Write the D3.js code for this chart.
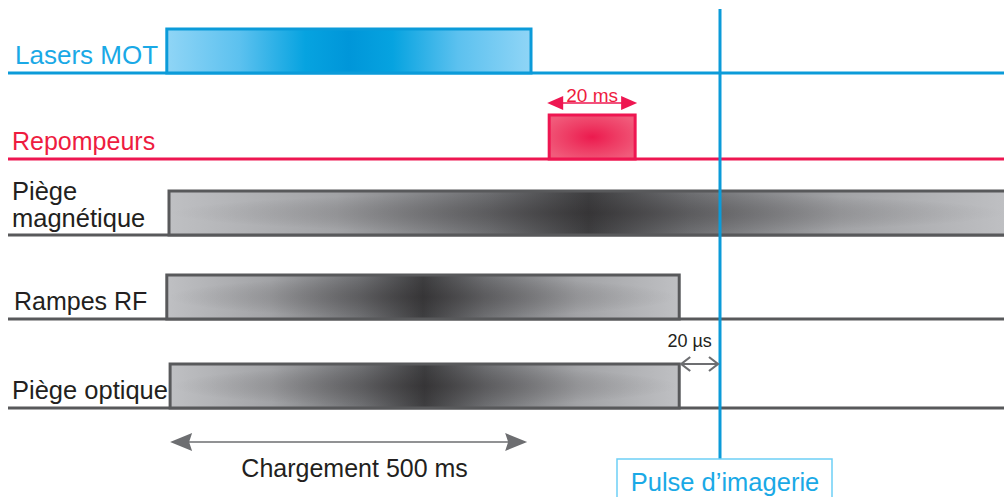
<!DOCTYPE html>
<html>
<head>
<meta charset="utf-8">
<script src="https://cdn.jsdelivr.net/npm/d3@7/dist/d3.min.js"></script>
<style>
html,body{margin:0;padding:0;background:#fff;}
svg{display:block;}
svg text{font-family:"Liberation Sans","Arimo",Arial,Helvetica,sans-serif;}
</style>
</head>
<body>
<svg id="chart" width="1004" height="497"></svg>
<script>
// ---- data (schematic time units: 0 = start of loading, 100 = imaging pulse) ----
const signals = ["Lasers MOT", "Repompeurs", "Piège magnétique", "Rampes RF", "Piège optique"];
const labelLines = [["Lasers MOT"], ["Repompeurs"], ["Piège", "magnétique"], ["Rampes RF"], ["Piège optique"]];
const pulseStart = [-0.4, 69.0, 0.0, -0.4, 0.2];
const pulseEnd   = [65.7, 84.6, 160, 92.6, 92.6];
const imagingTime = 100;
const loadingSpan = [0.2, 65.0];
const loadingLabel = "Chargement 500 ms";
const repumpLabel = "20 ms";
const delayLabel = "20 µs";
const imagingLabel = "Pulse d’imagerie";

// ---- layout ----
const FONT = "'Liberation Sans', Arimo, Arial, Helvetica, sans-serif";
const svg = d3.select("#chart").attr("font-family", FONT);
const x = d3.scaleLinear().domain([0, 100]).range([169, 720]);
const baseY = d3.scaleOrdinal().domain(signals).range([73, 159, 235, 319, 408]);
const barH = 44;
const lineStart = 8, lineEnd = 1004;

const styles = {
  "Lasers MOT": {line: "#0b9bd9", text: "#1aa9e6", fill: "gMOT", stroke: "#0b9bd9", size: 26},
  "Repompeurs": {line: "#ee1651", text: "#ee1c3f", fill: "gRep", stroke: "#ee1651", size: 25},
  "Piège magnétique": {line: "#58595b", text: "#231f20", fill: "gGrey", stroke: "#58595b", size: 25.5},
  "Rampes RF": {line: "#58595b", text: "#231f20", fill: "gGrey", stroke: "#58595b", size: 25},
  "Piège optique": {line: "#58595b", text: "#231f20", fill: "gGrey", stroke: "#58595b", size: 25.5}
};

const defs = svg.append("defs");
const gm = defs.append("linearGradient").attr("id", "gMOT");
[[0, "#90d5f6"], [0.2, "#5cc1ef"], [0.38, "#06a3e0"], [0.5, "#0096d9"], [0.62, "#06a3e0"], [0.8, "#5cc1ef"], [1, "#90d5f6"]]
  .forEach(s => gm.append("stop").attr("offset", s[0]).attr("stop-color", s[1]));
const gr = defs.append("radialGradient").attr("id", "gRep").attr("cx", 0.5).attr("cy", 0.5).attr("r", 0.6);
[[0, "#ec1a4e"], [0.5, "#ee3d65"], [1, "#f15b7b"]]
  .forEach(s => gr.append("stop").attr("offset", s[0]).attr("stop-color", s[1]));
const gg = defs.append("linearGradient").attr("id", "gGrey");
[[0, "#bfc0c3"], [0.2, "#a2a3a6"], [0.38, "#6d6e71"], [0.5, "#3e3e40"], [0.62, "#6d6e71"], [0.8, "#a2a3a6"], [1, "#bfc0c3"]]
  .forEach(s => gg.append("stop").attr("offset", s[0]).attr("stop-color", s[1]));
const gs = defs.append("radialGradient").attr("id", "gSpot").attr("cx", 0.5).attr("cy", 0.5).attr("r", 0.5);
gs.append("stop").attr("offset", 0).attr("stop-color", "#231f20").attr("stop-opacity", 0.3);
gs.append("stop").attr("offset", 1).attr("stop-color", "#231f20").attr("stop-opacity", 0);

const rows = signals.map((s, i) => ({name: s, lines: labelLines[i], t0: pulseStart[i], t1: pulseEnd[i]}));

// baselines
svg.selectAll("line.base").data(rows).join("line")
  .attr("x1", lineStart).attr("x2", lineEnd)
  .attr("y1", d => baseY(d.name)).attr("y2", d => baseY(d.name))
  .attr("stroke", d => styles[d.name].line).attr("stroke-width", 3);

// bars
rows.forEach(d => {
  const st = styles[d.name];
  const x0 = x(d.t0), x1 = Math.min(x(d.t1), lineEnd + 4);
  const y0 = baseY(d.name) - barH;
  svg.append("rect").attr("x", x0).attr("y", y0).attr("width", x1 - x0).attr("height", barH)
    .attr("fill", `url(#${st.fill})`).attr("stroke", st.stroke).attr("stroke-width", 3);
  if (st.fill === "gGrey") {
    svg.append("rect").attr("x", x0 + 1.5).attr("y", y0 + 1.5).attr("width", x1 - x0 - 3).attr("height", barH - 3)
      .attr("fill", "url(#gSpot)");
  }
});

// labels
rows.forEach(d => {
  const st = styles[d.name];
  const lx = d.name === "Lasers MOT" ? 15 : (d.name === "Rampes RF" ? 14 : 12);
  if (d.lines.length === 1) {
    svg.append("text").attr("x", lx).attr("y", baseY(d.name) - 9).attr("fill", st.text)
      .attr("font-size", st.size).text(d.lines[0]);
  } else {
    svg.append("text").attr("x", lx).attr("y", baseY(d.name) - 35).attr("fill", st.text)
      .attr("font-size", st.size).text(d.lines[0]);
    svg.append("text").attr("x", lx).attr("y", baseY(d.name) - 8).attr("fill", st.text)
      .attr("font-size", st.size).text(d.lines[1]);
  }
});

// 20 ms annotation above repumper pulse
const rep = rows[1];
const ra = x(rep.t0), rb = x(rep.t1), ry = baseY(rep.name) - barH - 12;
svg.append("line").attr("x1", ra + 12).attr("x2", rb - 12).attr("y1", ry).attr("y2", ry)
  .attr("stroke", "#ee1651").attr("stroke-width", 1.5);
svg.append("path").attr("d", `M${ra - 2},${ry} L${ra + 14},${ry - 7} L${ra + 14},${ry + 7} Z`).attr("fill", "#ee1651");
svg.append("path").attr("d", `M${rb + 2},${ry} L${rb - 14},${ry - 7} L${rb - 14},${ry + 7} Z`).attr("fill", "#ee1651");
svg.append("text").attr("x", (ra + rb) / 2).attr("y", ry - 1).attr("text-anchor", "middle")
  .attr("fill", "#ee1c3f").attr("font-size", 19).text(repumpLabel);

// imaging pulse vertical line
const xi = x(imagingTime);
svg.append("line").attr("x1", xi).attr("x2", xi).attr("y1", 9).attr("y2", 459)
  .attr("stroke", "#0b9bd9").attr("stroke-width", 3);

// 20 µs delay arrow
const opt = rows[4];
const da = x(opt.t1), dy = baseY(opt.name) - barH;
svg.append("line").attr("x1", da + 2).attr("x2", xi - 2).attr("y1", dy).attr("y2", dy)
  .attr("stroke", "#6d6e71").attr("stroke-width", 2);
svg.append("path").attr("d", `M${da + 11},${dy - 7} L${da + 2},${dy} L${da + 11},${dy + 7}`)
  .attr("fill", "none").attr("stroke", "#6d6e71").attr("stroke-width", 2.2);
svg.append("path").attr("d", `M${xi - 11},${dy - 7} L${xi - 2},${dy} L${xi - 11},${dy + 7}`)
  .attr("fill", "none").attr("stroke", "#6d6e71").attr("stroke-width", 2.2);
svg.append("text").attr("x", (da + xi) / 2 - 10).attr("y", dy - 17).attr("text-anchor", "middle")
  .attr("fill", "#231f20").attr("font-size", 18).text(delayLabel);

// loading arrow
const la = x(loadingSpan[0]), lb = x(loadingSpan[1]), ly = 442;
svg.append("line").attr("x1", la + 10).attr("x2", lb - 10).attr("y1", ly).attr("y2", ly)
  .attr("stroke", "#6d6e71").attr("stroke-width", 1.5);
svg.append("path").attr("d", `M${la},${ly} L${la + 22},${ly - 9} L${la + 19},${ly} L${la + 22},${ly + 9} Z`).attr("fill", "#6d6e71");
svg.append("path").attr("d", `M${lb},${ly} L${lb - 22},${ly - 9} L${lb - 19},${ly} L${lb - 22},${ly + 9} Z`).attr("fill", "#6d6e71");
svg.append("text").attr("x", (la + lb) / 2 + 6).attr("y", 477).attr("text-anchor", "middle")
  .attr("fill", "#231f20").attr("font-size", 25).text(loadingLabel);

// imaging pulse label box
svg.append("rect").attr("x", xi - 103).attr("y", 459).attr("width", 215).attr("height", 42)
  .attr("fill", "#fff").attr("stroke", "#6dcff6").attr("stroke-width", 1.5);
svg.append("text").attr("x", xi + 5).attr("y", 491).attr("text-anchor", "middle")
  .attr("fill", "#1aa9e6").attr("font-size", 25.5).text(imagingLabel);
</script>
</body>
</html>
